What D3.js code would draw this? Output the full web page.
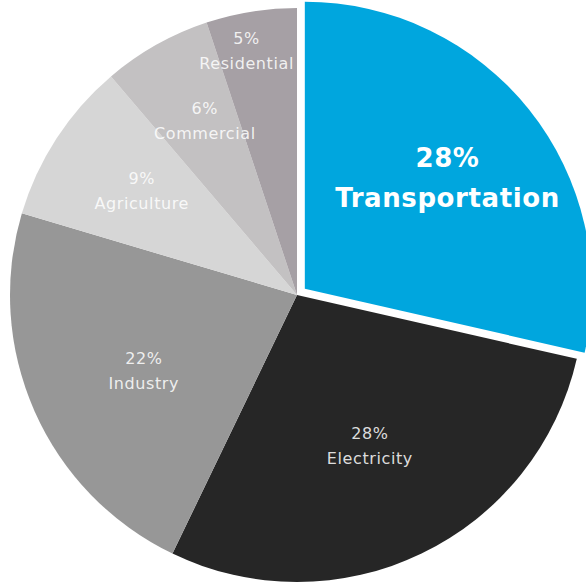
<!DOCTYPE html>
<html>
<head>
<meta charset="utf-8">
<script src="https://cdn.jsdelivr.net/npm/d3@7"></script>
<style>
  html, body { margin: 0; padding: 0; background: #fff; }
  svg { display: block; }
</style>
</head>
<body>
<svg id="chart" width="586" height="583"></svg>
<script>
// data (clockwise from 12 o'clock)
var sectors = ["Transportation", "Electricity", "Industry", "Agriculture", "Commercial", "Residential"];
var shares  = [28, 28, 22, 9, 6, 5];
var colours = ["#00a6de", "#262626", "#979797", "#d6d6d6", "#c3c1c2", "#a6a0a5"];

var svg = d3.select("#chart"),
    cx = 297, cy = 295,
    radius = 287,
    explode = 10;

// label placement: radius and small angle nudge (degrees)
var labelPos = {
  Transportation: [180, 1],
  Electricity:    [168, 0],
  Industry:       [171, -2.5],
  Agriculture:    [187, 0.8],
  Commercial:     [197, 1.5],
  Residential:    [249, -2.5]
};

var data = sectors.map(function(s, i) { return { name: s, value: shares[i], colour: colours[i] }; });

var pie = d3.pie()
    .sort(null)
    .value(function(d) { return d.value; });

var arc = d3.arc()
    .innerRadius(0)
    .outerRadius(radius);

var arcs = pie(data);

var g = svg.append("g").attr("transform", "translate(" + cx + "," + cy + ")");

function shift(d) {
  if (d.data.name !== "Transportation") return null;
  var a = (d.startAngle + d.endAngle) / 2;
  return "translate(" + (Math.sin(a) * explode) + "," + (-Math.cos(a) * explode) + ")";
}

g.append("g").selectAll("path")
  .data(arcs)
  .enter().append("path")
    .attr("transform", shift)
    .attr("d", arc)
    .attr("fill", function(d) { return d.data.colour; });

var labels = g.append("g").selectAll("text")
  .data(arcs)
  .enter().append("text")
    .attr("transform", shift)
    .attr("text-anchor", "middle")
    .attr("fill", "#fff")
    .attr("fill-opacity", function(d) { return d.data.name === "Transportation" ? 1 : 0.85; })
    .style("font-family", "'DejaVu Sans', sans-serif")
    .style("font-size", function(d) { return d.data.name === "Transportation" ? "26px" : "16px"; })
    .style("font-weight", function(d) { return d.data.name === "Transportation" ? "bold" : "normal"; })
    .style("letter-spacing", "0.6px");

labels.each(function(d) {
  var lp = labelPos[d.data.name],
      a = (d.startAngle + d.endAngle) / 2 + lp[1] * Math.PI / 180,
      x = Math.sin(a) * lp[0],
      y = -Math.cos(a) * lp[0],
      big = d.data.name === "Transportation",
      t = d3.select(this);

  t.append("tspan")
      .attr("x", x)
      .attr("y", y + (big ? -12 : -7))
      .text(d.data.value + "%");
  t.append("tspan")
      .attr("x", x)
      .attr("y", y + (big ? 28 : 18))
      .text(d.data.name);
});
</script>
</body>
</html>
